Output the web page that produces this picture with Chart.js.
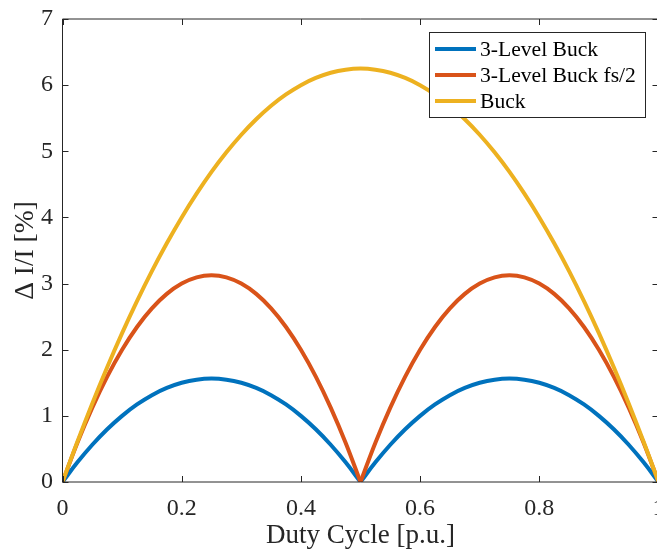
<!DOCTYPE html>
<html>
<head>
<meta charset="utf-8">
<script src="https://cdn.jsdelivr.net/npm/chart.js@4.4.1/dist/chart.umd.min.js"></script>
<style>
  html, body { margin: 0; padding: 0; background: #fff; overflow: hidden; }
  canvas { display: block; }
</style>
</head>
<body>
<canvas id="duty-chart" width="660" height="550" style="width:660px;height:550px"></canvas>
<script>
const dutyCycle = [0, 0.025, 0.05, 0.075, 0.1, 0.125, 0.15, 0.175, 0.2, 0.225, 0.25, 0.275, 0.3, 0.325, 0.35, 0.375, 0.4, 0.425, 0.45, 0.475, 0.5,
  0.525, 0.55, 0.575, 0.6, 0.625, 0.65, 0.675, 0.7, 0.725, 0.75, 0.775, 0.8, 0.825, 0.85, 0.875, 0.9, 0.925, 0.95, 0.975, 1];
const threeLevelBuck = [0, 0.297, 0.563, 0.797, 1.0, 1.172, 1.313, 1.422, 1.5, 1.547, 1.563, 1.547, 1.5, 1.422, 1.313, 1.172, 1.0, 0.797, 0.563, 0.297, 0,
  0.297, 0.563, 0.797, 1.0, 1.172, 1.313, 1.422, 1.5, 1.547, 1.563, 1.547, 1.5, 1.422, 1.313, 1.172, 1.0, 0.797, 0.563, 0.297, 0];
const threeLevelBuckHalf = [0, 0.594, 1.125, 1.594, 2.0, 2.344, 2.625, 2.844, 3.0, 3.094, 3.125, 3.094, 3.0, 2.844, 2.625, 2.344, 2.0, 1.594, 1.125, 0.594, 0,
  0.594, 1.125, 1.594, 2.0, 2.344, 2.625, 2.844, 3.0, 3.094, 3.125, 3.094, 3.0, 2.844, 2.625, 2.344, 2.0, 1.594, 1.125, 0.594, 0];
const buck = [0, 0.609, 1.188, 1.734, 2.25, 2.734, 3.188, 3.609, 4.0, 4.359, 4.688, 4.984, 5.25, 5.484, 5.688, 5.859, 6.0, 6.109, 6.188, 6.234, 6.25,
  6.234, 6.188, 6.109, 6.0, 5.859, 5.688, 5.484, 5.25, 4.984, 4.688, 4.359, 4.0, 3.609, 3.188, 2.734, 2.25, 1.734, 1.188, 0.609, 0];
const seriesNames = ['3-Level Buck', '3-Level Buck fs/2', 'Buck'];
const seriesColors = ['#0072BD', '#D95319', '#EDB120'];

const FONT = "'Liberation Serif', 'Times New Roman', serif";
const AXIS_COLOR = '#262626';
const CUSP = 20; // index of D = 0.5, where the 3-level curves touch zero

const toPoints = (vals, from, to) => {
  const pts = [];
  for (let i = from; i <= to; i++) pts.push({ x: dutyCycle[i], y: vals[i] });
  return pts;
};

const makeDataset = (i, points, order) => ({
  label: seriesNames[i],
  data: points,
  borderColor: seriesColors[i],
  backgroundColor: seriesColors[i],
  borderWidth: 4,
  pointRadius: 0,
  tension: 0.4,
  fill: false,
  order: order,
});

const last = dutyCycle.length - 1;
// 3-level curves are split at the cusp so the smoothing keeps the sharp V
const datasets = [
  makeDataset(0, toPoints(threeLevelBuck, 0, CUSP), 2),
  makeDataset(0, toPoints(threeLevelBuck, CUSP, last), 2),
  makeDataset(1, toPoints(threeLevelBuckHalf, 0, CUSP), 1),
  makeDataset(1, toPoints(threeLevelBuckHalf, CUSP, last), 1),
  makeDataset(2, toPoints(buck, 0, last), 0),
];

// matlab style frame with inward ticks
const framePlugin = {
  id: 'frame',
  afterDatasetsDraw(chart) {
    const { ctx, chartArea: a, scales: { x, y } } = chart;
    ctx.save();
    ctx.strokeStyle = AXIS_COLOR;
    ctx.lineWidth = 1;
    ctx.beginPath();
    ctx.moveTo(a.left, a.top); ctx.lineTo(a.right, a.top);
    ctx.moveTo(a.left, a.bottom); ctx.lineTo(a.right, a.bottom);
    ctx.moveTo(a.left, a.top); ctx.lineTo(a.left, a.bottom);
    ctx.moveTo(a.right, a.top); ctx.lineTo(a.right, a.bottom);
    const tl = 6;
    x.ticks.forEach(t => {
      const px = Math.round(x.getPixelForValue(t.value)) + 0.5;
      ctx.moveTo(px, a.bottom); ctx.lineTo(px, a.bottom - tl);
      ctx.moveTo(px, a.top); ctx.lineTo(px, a.top + tl);
    });
    y.ticks.forEach(t => {
      const py = Math.round(y.getPixelForValue(t.value)) + 0.5;
      ctx.moveTo(a.left, py); ctx.lineTo(a.left + tl, py);
      ctx.moveTo(a.right, py); ctx.lineTo(a.right - tl, py);
    });
    ctx.stroke();
    ctx.restore();
  }
};

// legend box inside the axes, top right
const boxLegendPlugin = {
  id: 'boxLegend',
  afterDraw(chart) {
    const ctx = chart.ctx;
    const bx = 429.5, by = 32.5, bw = 216, bh = 85;
    ctx.save();
    ctx.fillStyle = '#fff';
    ctx.fillRect(bx, by, bw, bh);
    ctx.strokeStyle = AXIS_COLOR;
    ctx.lineWidth = 1;
    ctx.strokeRect(bx, by, bw, bh);
    ctx.font = '21.6px ' + FONT;
    ctx.textBaseline = 'middle';
    ctx.fillStyle = '#000';
    const rows = [49, 75, 101];
    seriesNames.forEach((name, i) => {
      ctx.strokeStyle = seriesColors[i];
      ctx.lineWidth = 4;
      ctx.beginPath();
      ctx.moveTo(435, rows[i]);
      ctx.lineTo(476, rows[i]);
      ctx.stroke();
      ctx.fillText(name, 480, rows[i] + 1);
    });
    ctx.restore();
  }
};

const dutyChart = new Chart(document.getElementById('duty-chart'), {
  type: 'line',
  data: { datasets: datasets },
  options: {
    responsive: false,
    animation: false,
    devicePixelRatio: 1,
    layout: { padding: { top: 19, right: 1.5, left: 0, bottom: 0 } },
    plugins: {
      legend: { display: false },
      tooltip: { enabled: false },
    },
    scales: {
      x: {
        type: 'linear',
        min: 0,
        max: 1,
        afterFit: (s) => { s.height = 68; s.paddingLeft = 0; s.paddingRight = 0; },
        grid: { display: false, drawTicks: false },
        border: { display: false },
        ticks: {
          stepSize: 0.2,
          padding: 12,
          maxRotation: 0,
          color: AXIS_COLOR,
          font: { family: FONT, size: 24 },
          callback: (v) => String(Math.round(v * 10) / 10),
        },
        title: {
          display: true,
          text: 'Duty Cycle [p.u.]',
          color: AXIS_COLOR,
          font: { family: FONT, size: 27 },
          padding: { top: 0, bottom: -2 },
        }
      },
      y: {
        min: 0,
        max: 7,
        afterFit: (s) => { s.width = 62.5; s.paddingTop = 0; s.paddingBottom = 0; },
        grid: { display: false, drawTicks: false },
        border: { display: false },
        ticks: {
          stepSize: 1,
          padding: 9.5,
          color: AXIS_COLOR,
          font: { family: FONT, size: 24 },
        },
        title: {
          display: true,
          text: '\u0394 I/I [%]',
          color: AXIS_COLOR,
          font: { family: FONT, size: 27.5 },
          padding: { top: 9, bottom: 0 },
        }
      }
    }
  },
  plugins: [framePlugin, boxLegendPlugin]
});
</script>
</body>
</html>
